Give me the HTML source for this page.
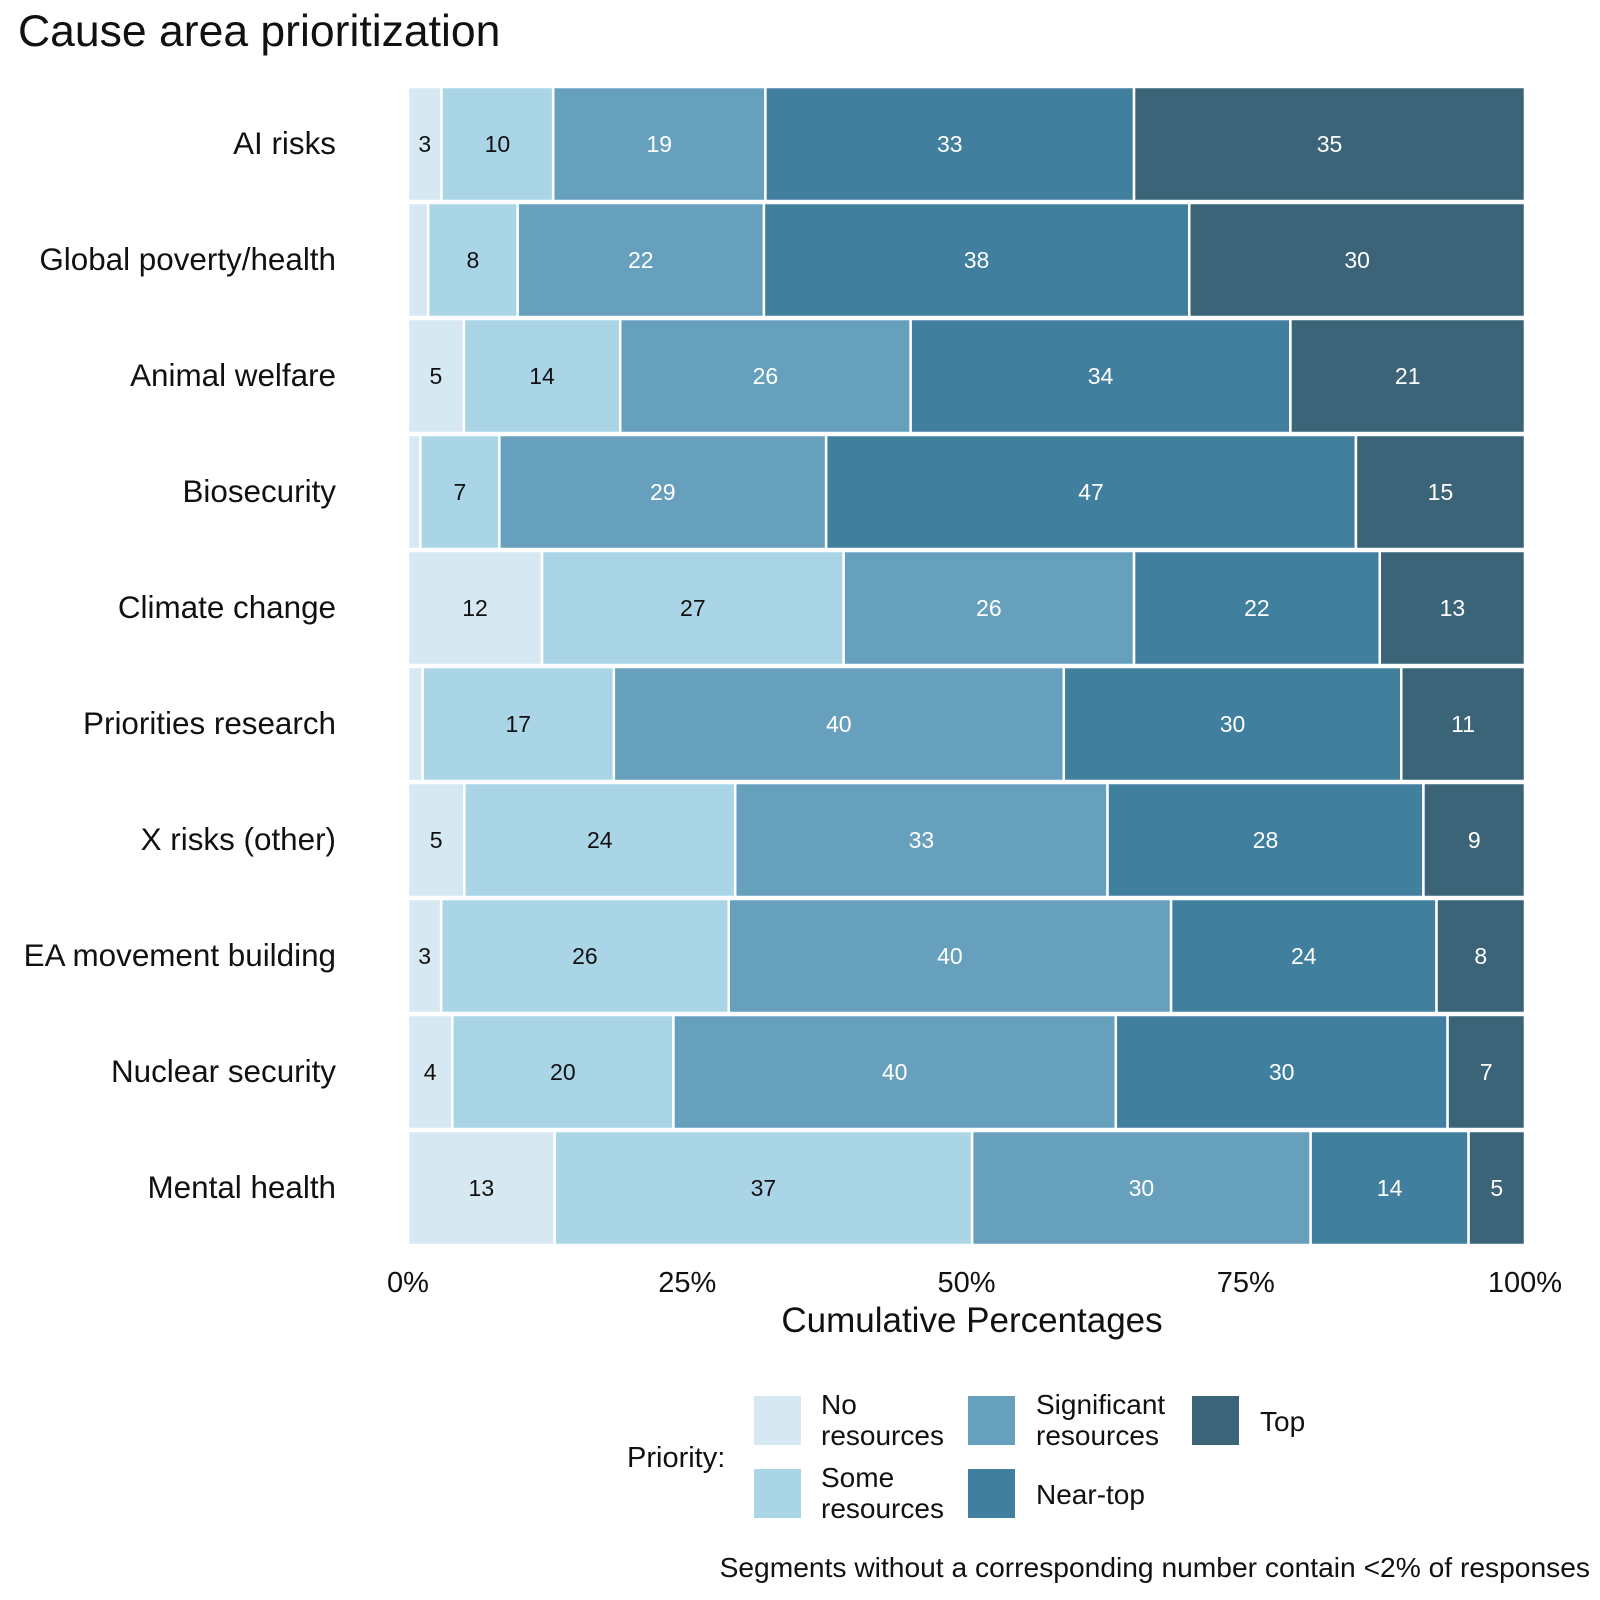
<!DOCTYPE html>
<html><head><meta charset="utf-8"><style>
body{margin:0;background:#fff}
svg{display:block;font-family:"Liberation Sans",sans-serif}
</style></head><body>
<svg id="chart" width="1600" height="1600" viewBox="0 0 1600 1600">
<text x="18" y="46" font-size="44.5" fill="#111">Cause area prioritization</text>
<g id="bars"></g>
<g id="ylabels"></g>
<g id="xticks"></g>
<text x="972" y="1332" font-size="35" text-anchor="middle" fill="#111">Cumulative Percentages</text>
<g transform="translate(0,-8)">
<text x="627" y="1475" font-size="29" fill="#111">Priority:</text>
<rect x="754" y="1404" width="47" height="49" fill="#d6e9f2"/>
<text x="821" y="1422" font-size="28" fill="#111"><tspan x="821">No</tspan><tspan x="821" dy="31">resources</tspan></text>
<rect x="754" y="1477" width="47" height="49" fill="#aad5e7"/>
<text x="821" y="1495" font-size="28" fill="#111"><tspan x="821">Some</tspan><tspan x="821" dy="31">resources</tspan></text>
<rect x="968" y="1404" width="47" height="49" fill="#67a0bd"/>
<text x="1036" y="1422" font-size="28" fill="#111"><tspan x="1036">Significant</tspan><tspan x="1036" dy="31">resources</tspan></text>
<rect x="968" y="1477" width="47" height="49" fill="#417f9f"/>
<text x="1036" y="1512" font-size="28" fill="#111">Near-top</text>
<rect x="1192" y="1404" width="47" height="49" fill="#3b6478"/>
<text x="1260" y="1439" font-size="28" fill="#111">Top</text>
</g>
<text x="1590" y="1577" font-size="28.2" text-anchor="end" fill="#111">Segments without a corresponding number contain &lt;2% of responses</text>
</svg>
<script>
const categories=["AI risks","Global poverty/health","Animal welfare","Biosecurity","Climate change","Priorities research","X risks (other)","EA movement building","Nuclear security","Mental health"];
const noRes=[3,1.8,5,1.1,12,1.3,5,3,4,13];
const someRes=[10,8,14,7,27,17,24,26,20,37];
const sigRes=[19,22,26,29,26,40,33,40,40,30];
const nearTopRes=[33,38,34,47,22,30,28,24,30,14];
const topRes=[35,30,21,15,13,11,9,8,7,5];
const tickLabels=["0%","25%","50%","75%","100%"];
const tickValues=[0,25,50,75,100];
const series=[noRes,someRes,sigRes,nearTopRes,topRes];
const seriesNames=["no","some","significant","near-top","top"];
const colors=["#d6e9f2","#aad5e7","#67a0bd","#417f9f","#3b6478"];
const textColors=["#111","#111","#fff","#fff","#fff"];
const X0=408,X1=1525,Y0=86,Y1=1246;
const xs=v=>X0+(X1-X0)*v/100;
const band=(Y1-Y0)/categories.length;
const ys=i=>Y0+band*i;
const NS="http://www.w3.org/2000/svg";
const gb=document.getElementById('bars'),gy=document.getElementById('ylabels'),gx=document.getElementById('xticks');
categories.forEach((c,i)=>{
  let tot=0;series.forEach(s=>tot+=s[i]);
  let cum=0;
  series.forEach((s,k)=>{
    const v=s[i]/tot*100;
    const r=document.createElementNS(NS,'rect');
    r.setAttribute('x',xs(cum));r.setAttribute('y',ys(i)+1);
    r.setAttribute('width',xs(cum+v)-xs(cum));r.setAttribute('height',band-2);
    r.setAttribute('fill',colors[k]);r.setAttribute('stroke','#fff');r.setAttribute('stroke-width','2.5');
    
    
    gb.appendChild(r);
    if(s[i]>=2){
      const t=document.createElementNS(NS,'text');
      t.setAttribute('x',(xs(cum)+xs(cum+v))/2);t.setAttribute('y',ys(i)+band/2+8);
      t.setAttribute('text-anchor','middle');t.setAttribute('font-size','23');t.setAttribute('fill',textColors[k]);
      t.textContent=Math.round(s[i]);
      
      
      gb.appendChild(t);
    }
    cum+=v;
  });
  const l=document.createElementNS(NS,'text');
  l.setAttribute('x',336);l.setAttribute('y',ys(i)+band/2+10);l.setAttribute('text-anchor','end');
  l.setAttribute('font-size','31.4');l.setAttribute('fill','#111');l.textContent=c;
  
  
  gy.appendChild(l);
});
tickValues.forEach((v,i)=>{
  const t=document.createElementNS(NS,'text');
  t.setAttribute('x',xs(v));t.setAttribute('y',1292);t.setAttribute('text-anchor','middle');
  t.setAttribute('font-size','29');t.setAttribute('fill','#111');t.textContent=tickLabels[i];
  
  
  gx.appendChild(t);
});
</script>
</body></html>
